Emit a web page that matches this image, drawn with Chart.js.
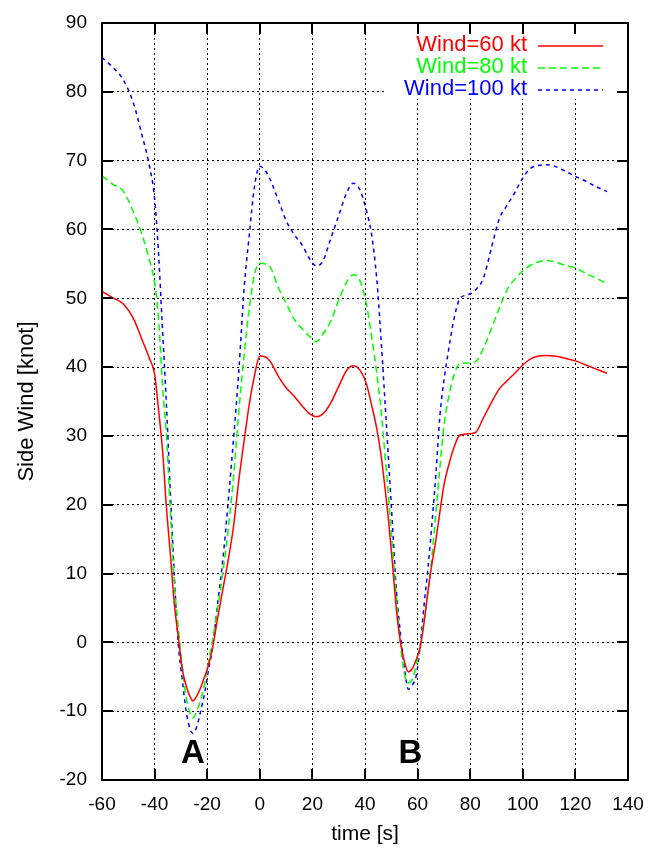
<!DOCTYPE html>
<html>
<head>
<meta charset="utf-8">
<title>Side Wind</title>
<script src="https://cdn.jsdelivr.net/npm/chart.js@4/dist/chart.umd.min.js"></script>
<style>
  body { margin: 0; background: #fff; }
  canvas { display: block; }
</style>
</head>
<body>
<canvas id="myChart" width="650" height="850"></canvas>
<script>
// time axis shared by the three runs [s]
const times = [-60, -56, -52, -48, -45, -42, -40, -38.5, -37, -35.5, -34, -32.5, -31, -29.5, -28, -26.5, -25.5, -24, -22.5, -21,
    -19.5, -18, -16, -14, -12, -10, -8, -6, -4, -2, 0, 2, 4, 7, 10, 13, 16, 19, 21.5, 24,
    27, 30, 33, 35.5, 38, 40.5, 42.5, 44.5, 46, 47.5, 49, 50.5, 52, 53.5, 55, 56.5, 58, 59.5, 61, 62.5,
    64, 65.5, 67, 68.5, 70, 72, 74, 76, 79, 82, 85, 88, 91, 94, 97, 100, 103, 106, 109, 112,
    116, 120, 124, 128, 132];

// side wind [knot]
const wind60 = [51.0, 50.1, 49.2, 47.0, 44.2, 41.3, 39.0, 33.8, 28.0, 19.6, 12.8, 5.6, 0.8, -3.8, -6.3, -7.9, -8.5, -7.8, -6.6, -5.0,
    -3.3, -0.9, 3.6, 7.8, 12.0, 16.8, 23.5, 29.2, 34.6, 38.8, 41.6, 41.5, 40.8, 38.7, 37.0, 35.8, 34.4, 33.2, 32.8, 33.2,
    34.8, 37.2, 39.5, 40.2, 39.6, 37.6, 34.5, 31.0, 27.5, 22.8, 17.5, 11.2, 4.5, 0.0, -2.8, -4.3, -3.8, -2.5, -0.7, 3.0,
    7.6, 11.5, 15.0, 19.0, 22.8, 26.0, 28.5, 30.1, 30.3, 30.5, 32.6, 34.8, 36.8, 38.0, 39.1, 40.3, 41.2, 41.6, 41.7, 41.6,
    41.3, 40.9, 40.3, 39.7, 39.1];

const wind80 = [67.8, 66.6, 65.6, 62.5, 59.5, 55.6, 52.3, 47.0, 37.4, 30.0, 18.9, 8.6, 2.2, -3.5, -8.0, -10.3, -11.0, -10.0, -8.4, -6.0,
    -2.8, 0.3, 5.0, 10.3, 16.5, 24.0, 33.5, 41.6, 48.5, 53.5, 55.1, 55.0, 54.5, 51.6, 49.3, 47.0, 45.6, 44.4, 43.7, 44.8,
    46.7, 49.7, 52.3, 53.4, 52.6, 49.2, 44.5, 39.0, 34.2, 27.7, 20.9, 13.6, 6.3, -0.3, -4.6, -5.9, -5.3, -3.3, -0.6, 3.4,
    7.3, 12.7, 19.0, 25.5, 31.4, 36.0, 39.0, 40.5, 40.6, 40.8, 42.7, 45.5, 48.5, 51.2, 52.8, 54.0, 54.8, 55.3, 55.5, 55.3,
    54.8, 54.4, 53.6, 52.9, 52.1];

const wind100 = [85.0, 83.6, 81.8, 78.3, 74.0, 69.3, 64.5, 56.5, 45.5, 34.5, 21.7, 9.7, -0.2, -5.3, -10.0, -12.6, -13.2, -12.3, -10.0, -7.4,
    -4.0, -0.8, 5.7, 12.2, 20.5, 29.5, 39.3, 51.2, 59.2, 66.3, 69.2, 68.6, 67.2, 64.3, 61.3, 59.3, 57.8, 55.7, 54.7, 55.4,
    58.7, 62.0, 65.3, 66.7, 65.8, 62.8, 59.3, 52.7, 44.7, 35.6, 26.2, 16.7, 7.2, 1.2, -3.8, -6.8, -6.2, -4.8, -0.5, 5.6,
    11.0, 17.5, 24.7, 33.0, 38.0, 43.0, 47.3, 49.9, 50.5, 51.2, 52.9, 57.2, 61.5, 63.5, 65.4, 67.5, 68.9, 69.3, 69.4, 69.2,
    68.5, 67.7, 67.0, 66.2, 65.5];

const seriesLabels = ['Wind=60 kt', 'Wind=80 kt', 'Wind=100 kt'];

// axis ranges and tick steps
const xRange = [-60, 140];
const xStep = 20;
const yRange = [-20, 90];
const yStep = 10;

// the two passes marked on the plot
const markLabels = ['A', 'B'];
const markTimes = [-25.4, 57.3];
const markValues = [-16.2, -16.2];

function toPoints(values) {
    return times.map((t, i) => ({ x: t, y: values[i] }));
}

Chart.defaults.font.family = '"Liberation Sans", Arial, Helvetica, sans-serif';
Chart.defaults.color = '#000';

// frame with inward ticks, the key in the top right corner and the A / B marks
const framePlugin = {
    id: 'frame',
    beforeDatasetsDraw(chart) {
        const { ctx, chartArea } = chart;
        ctx.save();
        ctx.fillStyle = '#fff';
        ctx.fillRect(385, chartArea.top, chartArea.right - 385, 76);
        ctx.restore();
    },
    afterDraw(chart) {
        const { ctx, chartArea, scales } = chart;
        const { left, right, top, bottom } = chartArea;
        ctx.save();
        ctx.strokeStyle = '#000';
        ctx.lineWidth = 2;
        ctx.setLineDash([]);
        ctx.strokeRect(left, top, right - left, bottom - top);

        ctx.beginPath();
        scales.x.ticks.forEach(t => {
            const px = Math.round(scales.x.getPixelForValue(t.value));
            ctx.moveTo(px, bottom); ctx.lineTo(px, bottom - 11);
            ctx.moveTo(px, top); ctx.lineTo(px, top + 11);
        });
        scales.y.ticks.forEach(t => {
            const py = Math.round(scales.y.getPixelForValue(t.value));
            ctx.moveTo(left, py); ctx.lineTo(left + 11, py);
            ctx.moveTo(right, py); ctx.lineTo(right - 11, py);
        });
        ctx.stroke();

        // key
        ctx.font = '22px "Liberation Sans", Arial, sans-serif';
        ctx.textAlign = 'right';
        ctx.textBaseline = 'middle';
        chart.data.datasets.forEach((ds, i) => {
            const y = top + 22 + i * 22;
            ctx.fillStyle = ds.borderColor;
            ctx.fillText(ds.label, 527, y);
            ctx.strokeStyle = ds.borderColor;
            ctx.lineWidth = ds.borderWidth;
            ctx.setLineDash(ds.borderDash || []);
            ctx.beginPath();
            ctx.moveTo(538, y + 1);
            ctx.lineTo(603, y + 1);
            ctx.stroke();
        });

        // A / B
        ctx.setLineDash([]);
        ctx.fillStyle = '#000';
        ctx.font = 'bold 33px "Liberation Sans", Arial, sans-serif';
        ctx.textAlign = 'center';
        ctx.textBaseline = 'middle';
        markLabels.forEach((m, i) => {
            ctx.fillText(m, scales.x.getPixelForValue(markTimes[i]), scales.y.getPixelForValue(markValues[i]));
        });
        ctx.restore();
    }
};

const ctx = document.getElementById('myChart').getContext('2d');

const chart = new Chart(ctx, {
    type: 'line',
    data: {
        datasets: [{
            label: seriesLabels[0],
            data: toPoints(wind60),
            borderColor: '#ff0000',
            borderWidth: 1.5,
            pointRadius: 0,
            fill: false
        }, {
            label: seriesLabels[1],
            data: toPoints(wind80),
            borderColor: '#00ff00',
            borderWidth: 1.5,
            borderDash: [7, 4],
            pointRadius: 0,
            fill: false
        }, {
            label: seriesLabels[2],
            data: toPoints(wind100),
            borderColor: '#0000ff',
            borderWidth: 1.5,
            borderDash: [4, 4],
            pointRadius: 0,
            fill: false
        }]
    },
    options: {
        responsive: false,
        animation: false,
        cubicInterpolationMode: 'monotone',
        layout: { padding: { top: 23, right: 22, left: 0, bottom: 0 } },
        plugins: {
            legend: { display: false },
            tooltip: { enabled: false }
        },
        scales: {
            x: {
                type: 'linear',
                min: xRange[0],
                max: xRange[1],
                ticks: { stepSize: xStep, font: { size: 19 }, padding: 13, maxRotation: 0 },
                grid: { color: '#000', lineWidth: 1, drawTicks: false },
                border: { display: false, dash: [2, 3] },
                title: { display: true, text: 'time [s]', font: { size: 21 }, padding: { top: 0, bottom: 3 } },
                afterFit(scale) {
                    scale.height = 70;
                    scale.paddingLeft = 0;
                    scale.paddingRight = 0;
                }
            },
            y: {
                min: yRange[0],
                max: yRange[1],
                ticks: { stepSize: yStep, font: { size: 19 }, padding: 15 },
                grid: { color: '#000', lineWidth: 1, drawTicks: false },
                border: { display: false, dash: [2, 3] },
                title: { display: true, text: 'Side Wind [knot]', font: { size: 22 }, padding: { top: 14, bottom: 0 } },
                afterFit(scale) {
                    scale.width = 102;
                    scale.paddingTop = 0;
                    scale.paddingBottom = 0;
                }
            }
        }
    },
    plugins: [framePlugin]
});
</script>
</body>
</html>
